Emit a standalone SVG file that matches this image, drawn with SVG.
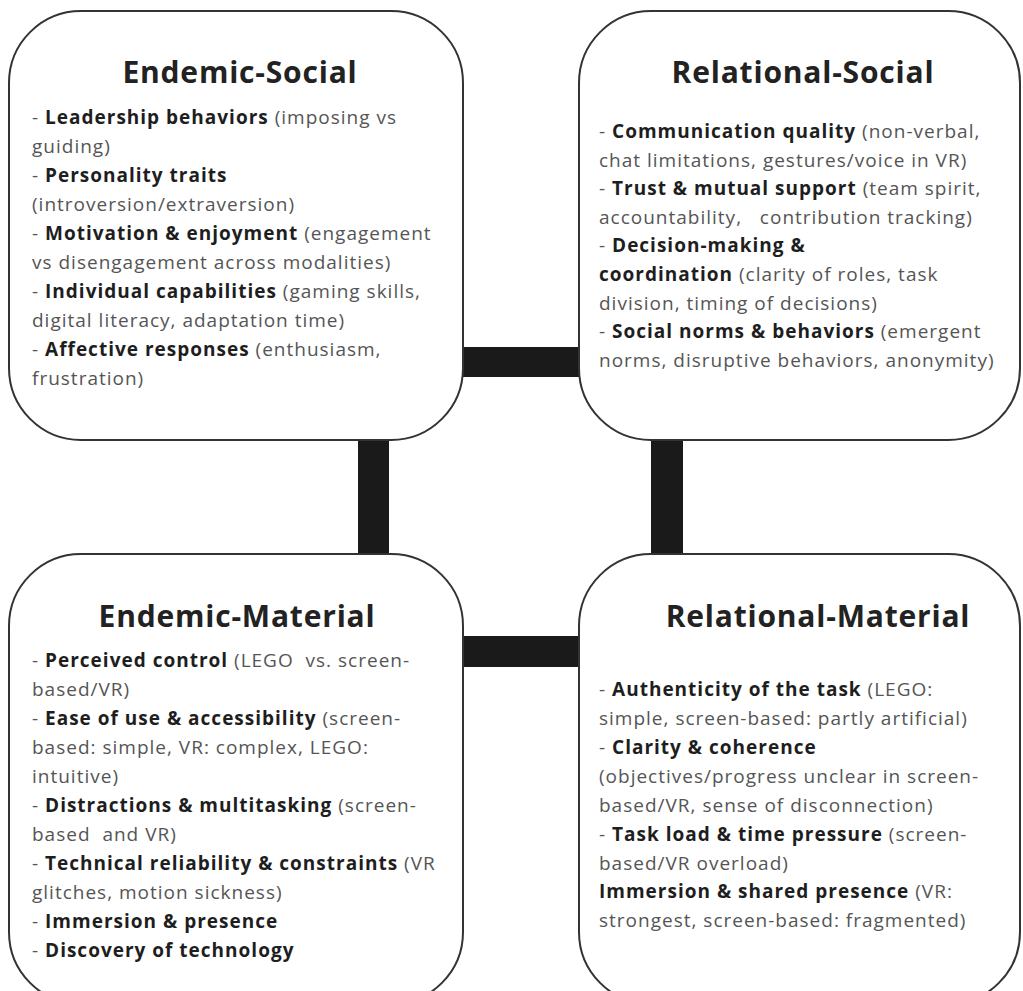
<svg xmlns="http://www.w3.org/2000/svg" width="1023" height="991" viewBox="0 0 1023 991">
<style>
.box{fill:#fff;stroke:#333;stroke-width:2}
.bar{fill:#1a1a1a}
.title{font-family:"Open Sans","Noto Sans",sans-serif;font-weight:700;font-size:30px;letter-spacing:0.8px;fill:#222;text-anchor:middle}
.body{font-family:"Open Sans","Noto Sans",sans-serif;font-size:19px;letter-spacing:1px;fill:#555}
.b{font-weight:700;fill:#1e1e1e}
</style>
<rect width="1023" height="991" fill="#fff"/>
<g id="connectors">
<rect class="bar" x="463" y="347" width="116" height="30"/>
<rect class="bar" x="463" y="636" width="116" height="31"/>
<rect class="bar" x="358" y="440" width="31" height="114"/>
<rect class="bar" x="651" y="440" width="32" height="114"/>
</g>
<g id="endemic-social">
<rect class="box" x="9" y="11" width="454" height="429" rx="72"/>
<text class="title" x="240" y="83">Endemic-Social</text>
<text class="body" x="32">
<tspan x="32" y="124">- <tspan class="b">Leadership behaviors</tspan> (imposing vs</tspan>
<tspan x="32" y="153">guiding)</tspan>
<tspan x="32" y="182">- <tspan class="b">Personality traits</tspan></tspan>
<tspan x="32" y="211">(introversion/extraversion)</tspan>
<tspan x="32" y="240">- <tspan class="b">Motivation &amp; enjoyment</tspan> (engagement</tspan>
<tspan x="32" y="269">vs disengagement across modalities)</tspan>
<tspan x="32" y="298">- <tspan class="b">Individual capabilities</tspan> (gaming skills,</tspan>
<tspan x="32" y="327">digital literacy, adaptation time)</tspan>
<tspan x="32" y="356">- <tspan class="b">Affective responses</tspan> (enthusiasm,</tspan>
<tspan x="32" y="385">frustration)</tspan>
</text>
</g>
<g id="relational-social">
<rect class="box" x="579" y="11" width="441" height="429" rx="72"/>
<text class="title" x="803" y="83">Relational-Social</text>
<text class="body">
<tspan x="599" y="138">- <tspan class="b">Communication quality</tspan> (non-verbal,</tspan>
<tspan x="599" y="167">chat limitations, gestures/voice in VR)</tspan>
<tspan x="599" y="195">- <tspan class="b">Trust &amp; mutual support</tspan> (team spirit,</tspan>
<tspan x="599" y="224">accountability,&#160;&#160; contribution tracking)</tspan>
<tspan x="599" y="252">- <tspan class="b">Decision-making &amp;</tspan></tspan>
<tspan x="599" y="281"><tspan class="b">coordination</tspan> (clarity of roles, task</tspan>
<tspan x="599" y="310">division, timing of decisions)</tspan>
<tspan x="599" y="338">- <tspan class="b">Social norms &amp; behaviors</tspan> (emergent</tspan>
<tspan x="599" y="367">norms, disruptive behaviors, anonymity)</tspan>
</text>
</g>
<g id="endemic-material">
<rect class="box" x="9" y="554" width="454" height="450" rx="72"/>
<text class="title" x="237" y="627">Endemic-Material</text>
<text class="body">
<tspan x="32" y="667">- <tspan class="b">Perceived control</tspan> (LEGO&#160; vs. screen-</tspan>
<tspan x="32" y="696">based/VR)</tspan>
<tspan x="32" y="725">- <tspan class="b">Ease of use &amp; accessibility</tspan> (screen-</tspan>
<tspan x="32" y="754">based: simple, VR: complex, LEGO:</tspan>
<tspan x="32" y="783">intuitive)</tspan>
<tspan x="32" y="812">- <tspan class="b">Distractions &amp; multitasking</tspan> (screen-</tspan>
<tspan x="32" y="841">based&#160; and VR)</tspan>
<tspan x="32" y="870">- <tspan class="b">Technical reliability &amp; constraints</tspan> (VR</tspan>
<tspan x="32" y="899">glitches, motion sickness)</tspan>
<tspan x="32" y="928">- <tspan class="b">Immersion &amp; presence</tspan></tspan>
<tspan x="32" y="957">- <tspan class="b">Discovery of technology</tspan></tspan>
</text>
</g>
<g id="relational-material">
<rect class="box" x="579" y="554" width="441" height="450" rx="72"/>
<text class="title" x="818" y="627">Relational-Material</text>
<text class="body">
<tspan x="599" y="696">- <tspan class="b">Authenticity of the task</tspan> (LEGO:</tspan>
<tspan x="599" y="725">simple, screen-based: partly artificial)</tspan>
<tspan x="599" y="754">- <tspan class="b">Clarity &amp; coherence</tspan></tspan>
<tspan x="599" y="783">(objectives/progress unclear in screen-</tspan>
<tspan x="599" y="812">based/VR, sense of disconnection)</tspan>
<tspan x="599" y="841">- <tspan class="b">Task load &amp; time pressure</tspan> (screen-</tspan>
<tspan x="599" y="870">based/VR overload)</tspan>
<tspan x="599" y="898"><tspan class="b">Immersion &amp; shared presence</tspan> (VR:</tspan>
<tspan x="599" y="927">strongest, screen-based: fragmented)</tspan>
</text>
</g>
</svg>
